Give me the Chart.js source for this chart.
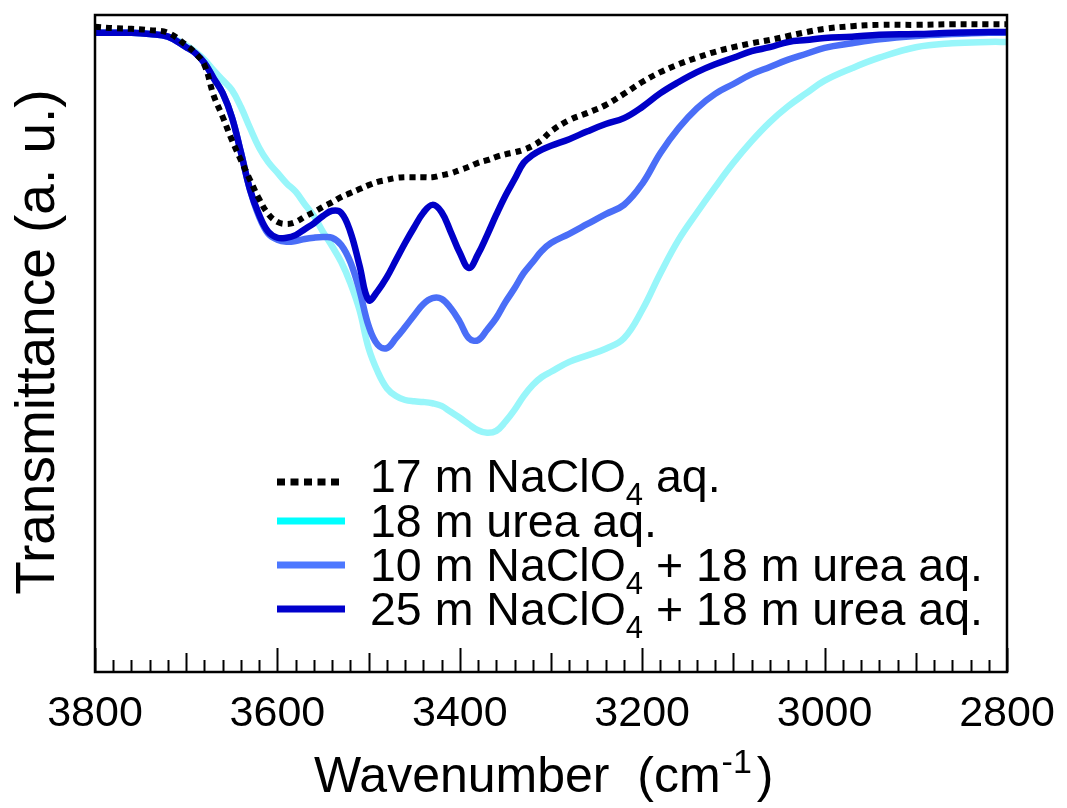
<!DOCTYPE html>
<html>
<head>
<meta charset="utf-8">
<script src="https://cdn.jsdelivr.net/npm/chart.js@4/dist/chart.umd.min.js"></script>
<style>
  html, body { margin: 0; padding: 0; background: #fff; }
  canvas { display: block; }
</style>
</head>
<body>
<canvas id="ir" width="1067" height="808"></canvas>
<script>
// FT-IR spectra in the O-H / N-H stretching region (wavenumber in cm-1, transmittance in a. u.)
const wavenumbers = [3800,3780,3760,3740,3720,3700,3690,3680,3670,3660,3650,3640,3630,3620,3610,3600,3590,3580,3570,3560,3550,3540,3530,3520,3510,3500,3490,3480,3470,3460,3450,3440,3430,3420,3410,3400,3390,3380,3370,3360,3350,3340,3330,3320,3310,3300,3280,3260,3240,3220,3200,3180,3160,3140,3120,3100,3080,3060,3040,3020,3000,2970,2940,2900,2860,2820,2800];

const naclo4_17m = [98.2,98.0,97.9,97.7,97.3,95.4,94.2,92.4,87.8,84.5,81.0,77.9,74.9,72.0,69.7,68.5,68.2,68.5,69.3,70.0,70.8,71.5,72.3,72.9,73.5,74.1,74.6,74.9,75.2,75.3,75.3,75.3,75.3,75.6,75.9,76.4,76.9,77.5,77.9,78.4,78.8,79.1,79.5,80.1,81.0,82.3,84.0,85.1,86.3,88.0,89.8,91.3,92.5,93.5,94.4,95.1,95.7,96.2,96.8,97.4,97.9,98.3,98.5,98.5,98.6,98.6,98.6];

const urea_18m = [97.3,97.3,97.3,97.1,96.7,95.4,94.4,93.2,91.6,90.1,88.6,86.0,82.8,79.8,77.6,76.0,74.4,73.1,71.2,69.4,67.0,64.8,62.4,59.2,55.1,49.3,45.7,43.2,42.0,41.4,41.2,41.1,40.9,40.5,39.6,38.7,37.7,36.8,36.4,36.7,38.1,39.9,42.0,43.7,44.9,45.7,47.2,48.2,49.2,50.8,55.1,60.7,65.8,69.9,73.8,77.5,80.8,83.7,86.1,88.1,90.0,91.9,93.5,95.1,95.7,95.9,95.9];

const naclo4_10m_urea = [97.3,97.3,97.3,97.1,96.7,95.1,94.2,92.7,90.4,88.1,84.5,79.1,73.4,69.3,66.7,65.8,65.5,65.6,65.9,66.1,66.2,66.1,65.0,62.4,58.1,52.7,49.8,49.3,50.8,52.5,54.3,56.0,56.9,56.8,55.4,53.3,50.8,50.5,52.1,53.9,56.3,58.4,60.7,62.4,64.1,65.3,66.7,68.2,69.7,71.1,74.3,79.0,82.8,85.8,88.0,89.5,91.0,92.1,93.2,94.1,95.0,95.7,96.3,96.8,97.1,97.3,97.3];

const naclo4_25m_urea = [97.3,97.3,97.3,97.1,96.7,95.1,94.2,92.7,90.4,88.1,84.5,79.1,73.4,69.6,67.0,66.1,66.1,66.5,67.4,68.3,69.4,70.2,69.9,67.0,61.9,56.6,58.0,60.1,62.7,65.3,67.7,69.9,71.1,70.0,67.0,63.8,61.5,63.6,66.5,69.6,72.5,75.0,77.5,78.7,79.5,80.1,81.1,82.3,83.4,84.3,86.0,88.1,89.8,91.3,92.5,93.5,94.5,95.1,95.9,96.2,96.5,96.7,97.0,97.1,97.3,97.4,97.4];

// legend entries: [text, subscript, text]
const legendLabels = [
  ['17 m NaClO', '4', ' aq.'],
  ['18 m urea aq.', '', ''],
  ['10 m NaClO', '4', ' + 18 m urea aq.'],
  ['25 m NaClO', '4', ' + 18 m urea aq.']
];
const xTickValues = [3800, 3600, 3400, 3200, 3000, 2800];

const FONT = "'Liberation Sans', Arial, sans-serif";
const toPoints = ys => wavenumbers.map((w, i) => ({ x: w, y: ys[i] }));

const series = [
  { label: '17 m NaClO4 aq.', data: naclo4_17m, color: '#000000', legendColor: '#000000', dash: [6, 5], order: 0 },
  { label: '18 m urea aq.', data: urea_18m, color: '#98f6fa', legendColor: '#00ffff', dash: [], order: 3 },
  { label: '10 m NaClO4 + 18 m urea aq.', data: naclo4_10m_urea, color: '#4a6ef7', legendColor: '#4d78ff', dash: [], order: 2 },
  { label: '25 m NaClO4 + 18 m urea aq.', data: naclo4_25m_urea, color: '#0000c8', legendColor: '#0000cc', dash: [], order: 1 }
];

const decorations = {
  id: 'decorations',
  afterDraw(chart) {
    const { ctx, chartArea: a, scales: { x } } = chart;
    ctx.save();

    // minor / medium / major ticks pointing into the plot
    ctx.strokeStyle = '#000';
    ctx.lineWidth = 2;
    for (let w = 2800; w <= 3800; w += 20) {
      const px = Math.round(x.getPixelForValue(w)) + 0.5;
      const len = (w % 200 === 0) ? 24 : (w % 100 === 0) ? 19 : 12;
      ctx.beginPath();
      ctx.moveTo(px, a.bottom);
      ctx.lineTo(px, a.bottom - len);
      ctx.stroke();
    }

    // frame
    ctx.lineWidth = 2.5;
    ctx.strokeRect(a.left, a.top, a.right - a.left, a.bottom - a.top);

    // legend
    const rowBase = [492, 537, 581, 625];
    legendLabels.forEach((parts, i) => {
      const s = series[i];
      const yLine = rowBase[i] - (i === 0 ? 10 : 16);
      ctx.beginPath();
      ctx.strokeStyle = s.legendColor;
      ctx.lineWidth = 7;
      ctx.lineCap = 'butt';
      ctx.setLineDash(i === 0 ? [8, 5.5] : []);
      ctx.moveTo(277, yLine);
      ctx.lineTo(i === 0 ? 341 : 345, yLine);
      ctx.stroke();
      ctx.setLineDash([]);

      ctx.fillStyle = '#000';
      ctx.textAlign = 'left';
      ctx.textBaseline = 'alphabetic';
      let tx = 370;
      ctx.font = `46.5px ${FONT}`;
      ctx.fillText(parts[0], tx, rowBase[i]);
      tx += ctx.measureText(parts[0]).width;
      if (parts[1]) {
        ctx.font = `31px ${FONT}`;
        ctx.fillText(parts[1], tx, rowBase[i] + 13);
        tx += ctx.measureText(parts[1]).width;
      }
      if (parts[2]) {
        ctx.font = `46.5px ${FONT}`;
        ctx.fillText(parts[2], tx, rowBase[i]);
      }
    });

    // x-axis title with superscript
    const main = 'Wavenumber  (cm';
    const sup = '-1';
    const close = ')';
    ctx.font = `50px ${FONT}`;
    const wMain = ctx.measureText(main).width;
    ctx.font = `34px ${FONT}`;
    const wSup = ctx.measureText(sup).width;
    let sx = 314;
    const base = 792;
    ctx.font = `50px ${FONT}`;
    ctx.fillText(main, sx, base);
    sx += wMain + 1;
    ctx.font = `34px ${FONT}`;
    ctx.fillText(sup, sx, base - 19);
    sx += wSup + 5;
    ctx.font = `50px ${FONT}`;
    ctx.fillText(close, sx, base);

    // y-axis title
    ctx.translate(54, 342);
    ctx.rotate(-Math.PI / 2);
    ctx.textAlign = 'center';
    ctx.font = `55px ${FONT}`;
    ctx.fillText('Transmittance (a. u.)', 0, 0);

    ctx.restore();
  }
};

new Chart(document.getElementById('ir'), {
  type: 'line',
  data: {
    datasets: series.map(s => ({
      label: s.label,
      data: toPoints(s.data),
      borderColor: s.color,
      borderWidth: s.dash.length ? 6 : 6.5,
      borderDash: s.dash,
      borderCapStyle: 'butt',
      borderJoinStyle: 'round',
      pointRadius: 0,
      fill: false,
      tension: 0.4,
      order: s.order
    }))
  },
  options: {
    responsive: false,
    animation: false,
    devicePixelRatio: 1,
    layout: { padding: { top: 15, right: 60, left: 0, bottom: 0 } },
    plugins: { legend: { display: false }, tooltip: { enabled: false } },
    scales: {
      x: {
        type: 'linear',
        reverse: true,
        min: 2800,
        max: 3800,
        afterFit: s => { s.height = 136; s.paddingLeft = 0; s.paddingRight = 0; },
        afterBuildTicks: s => { s.ticks = xTickValues.map(v => ({ value: v })); },
        grid: { display: false, drawTicks: false },
        border: { display: false },
        ticks: {
          color: '#000',
          font: { family: FONT, size: 43 },
          padding: 16,
          maxRotation: 0,
          autoSkip: false,
          callback: v => String(v)
        }
      },
      y: {
        min: 0,
        max: 100,
        afterFit: s => { s.width = 95; },
        grid: { display: false, drawTicks: false },
        border: { display: false },
        ticks: { display: false }
      }
    }
  },
  plugins: [decorations]
});
</script>
</body>
</html>
